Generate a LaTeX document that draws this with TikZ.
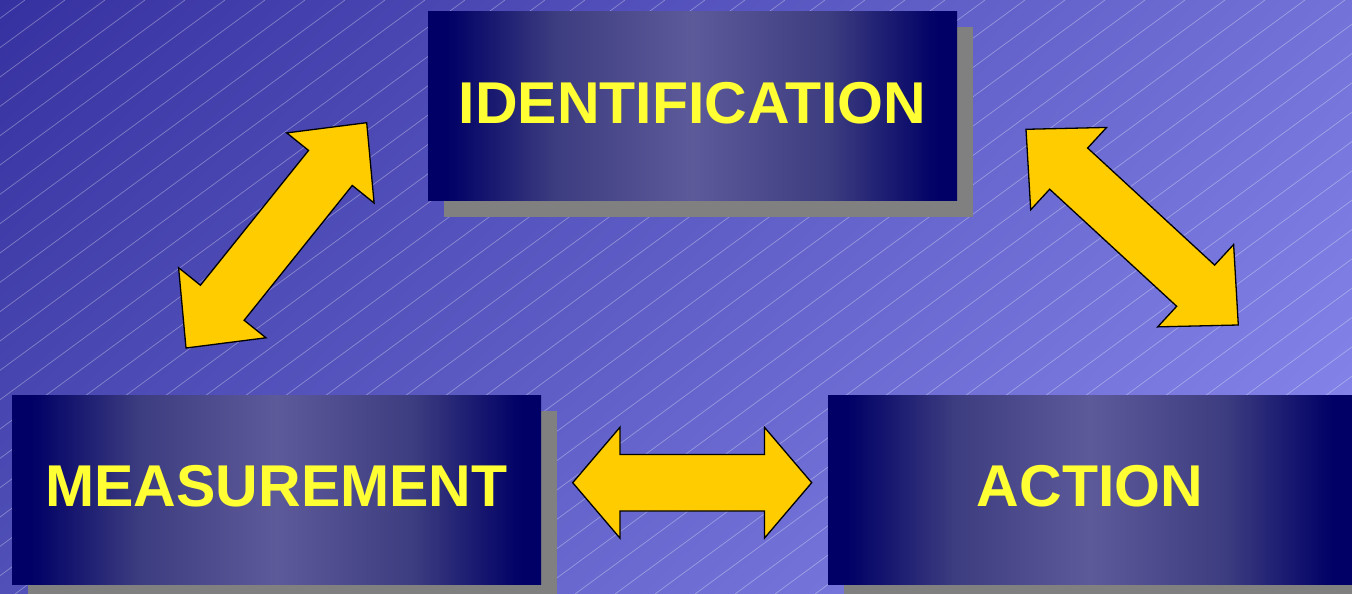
\documentclass[tikz,border=0pt]{standalone}
\usepackage{fontspec}
\setmainfont{Liberation Sans}
\usetikzlibrary{calc,shadows,shadings}
\definecolor{bgUL}{HTML}{3631A0}
\definecolor{bgUR}{HTML}{7272D8}
\definecolor{bgLL}{HTML}{5050B8}
\definecolor{bgLR}{HTML}{8A8AF0}
\definecolor{boxdark}{HTML}{000066}
\definecolor{boxq}{HTML}{3C3C80}
\definecolor{boxmid}{HTML}{5D5A9A}
\definecolor{shadowgray}{HTML}{808080}
\definecolor{textyellow}{HTML}{FFFF33}
\definecolor{arrowyellow}{HTML}{FFCC00}
\pgfdeclarehorizontalshading{boxshade}{100bp}{color(0bp)=(boxdark); color(26.9bp)=(boxdark); color(37bp)=(boxq); color(50bp)=(boxmid); color(63bp)=(boxq); color(73.1bp)=(boxdark); color(100bp)=(boxdark)}
\tikzset{
  bgline/.style={white, opacity=0.33, line width=0.7pt},
  stagebox/.style={shade, shading=boxshade, inner sep=0pt, minimum height=189pt,
    general shadow={fill=shadowgray, shadow xshift=16pt, shadow yshift=-16pt},
    text=textyellow, font=\fontsize{59}{60}\selectfont\bfseries, text depth=7pt},
  yarrow/.style={fill=arrowyellow, draw=black, line width=1.3pt, line join=miter}
}
% block double arrow between two named tips: #1 #2 headlen headhalfwidth shafthalfwidth
\newcommand\blockarrow[5]{%
  \coordinate (ba1) at ($(#1)!#3!(#2)$);
  \coordinate (ba2) at ($(#2)!#3!(#1)$);
  \draw[yarrow] (#1) -- ($(ba1)!#4!90:(#2)$) -- ($(ba1)!#5!90:(#2)$)
    -- ($(ba2)!#5!-90:(#1)$) -- ($(ba2)!#4!-90:(#1)$) -- (#2)
    -- ($(ba2)!#4!90:(#1)$) -- ($(ba2)!#5!90:(#1)$)
    -- ($(ba1)!#5!-90:(#2)$) -- ($(ba1)!#4!-90:(#2)$) -- cycle;}
\begin{document}
\begin{tikzpicture}[x=1pt,y=-1pt]
\useasboundingbox (0,0) rectangle (1352,594);
\clip (0,0) rectangle (1352,594);
\shade[shading=bilinear interpolation, upper left=bgUL, upper right=bgUR, lower left=bgLL, lower right=bgLR] (0,0) rectangle (1352,594);
\foreach \k in {0,...,54}{
  \draw[bgline] ({25+40*\k},0) -- ({25+40*\k-810},594);
}
\node[stagebox, minimum width=529pt] (ident) at (692.5,106) {IDENTIFICATION};
\node[stagebox, minimum width=529pt] (meas) at (276.5,489.5) {MEASUREMENT};
\node[stagebox, minimum width=524pt] (action) at (1090,489.5) {ACTION};
% arrow tips
\coordinate (a1top) at (366.7,122.7);
\coordinate (a1bot) at (186,348);
\coordinate (a2top) at (1026,129.3);
\coordinate (a2bot) at (1238.3,325);
\coordinate (a3left) at (572.7,482.7);
\coordinate (a3right) at (811.7,482.7);
\blockarrow{a1top}{a1bot}{58pt}{56pt}{28pt}
\blockarrow{a2top}{a2bot}{58pt}{56pt}{28pt}
\blockarrow{a3left}{a3right}{47.3pt}{55.5pt}{28.3pt}
\end{tikzpicture}
\end{document}
